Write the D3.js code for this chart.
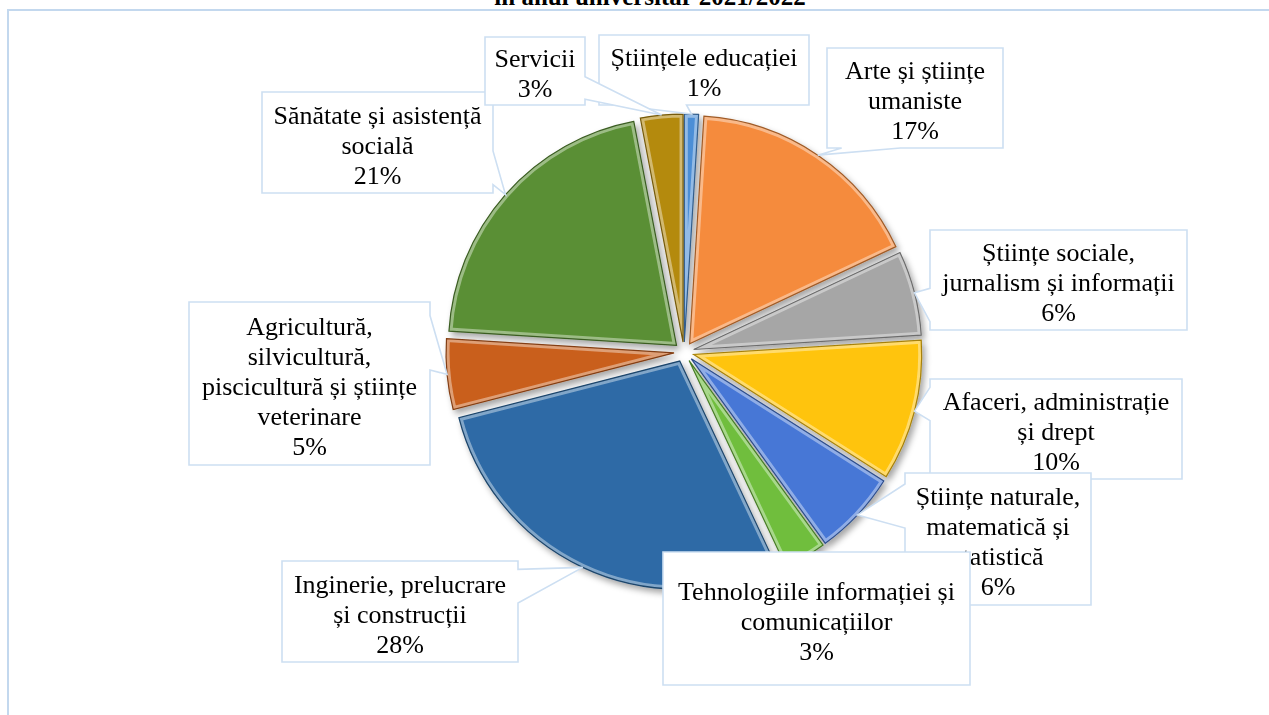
<!DOCTYPE html>
<html>
<head>
<meta charset="utf-8">
<script src="https://cdn.jsdelivr.net/npm/d3@7"></script>
<style>
  body { margin: 0; background: #fff; }
  svg { display: block; }
</style>
</head>
<body>
<svg></svg>
<script>
const width = 1269
const height = 715

// data: share of students by field of study (%)
const categories = [
  "Științele educației",
  "Arte și științe umaniste",
  "Științe sociale, jurnalism și informații",
  "Afaceri, administrație și drept",
  "Științe naturale, matematică și statistică",
  "Tehnologiile informației și comunicațiilor",
  "Inginerie, prelucrare și construcții",
  "Agricultură, silvicultură, piscicultură și științe veterinare",
  "Sănătate și asistență socială",
  "Servicii"
]
const values = [1, 17, 6, 10, 6, 3, 28, 5, 21, 3]

const colours = ["#4c8ed6", "#f58b3c", "#a6a6a6", "#ffc40a", "#4677d6",
                 "#6fbe3e", "#2e6ba6", "#c95f1c", "#5a8f34", "#b48a10"]

// label boxes placed by hand, like the original
const boxes = [
  {x: 599, y: 35, w: 210, h: 70},
  {x: 827, y: 48, w: 176, h: 100},
  {x: 930, y: 230, w: 257, h: 100},
  {x: 930, y: 379, w: 252, h: 100},
  {x: 905, y: 473, w: 186, h: 132},
  {x: 663, y: 552, w: 307, h: 133},
  {x: 282, y: 561, w: 236, h: 101},
  {x: 189, y: 302, w: 241, h: 163},
  {x: 262, y: 92, w: 231, h: 101},
  {x: 485, y: 37, w: 100, h: 68}
]

const cx = 684, cy = 352
const radius = 228
const explode = 10
const fontSize = 26
const lineH = 30

const svg = d3.select('svg')
  .attr('width', width)
  .attr('height', height)

const defs = svg.append('defs')
const shadow = defs.append('filter')
  .attr('id', 'shadow')
  .attr('x', '-20%').attr('y', '-20%')
  .attr('width', '140%').attr('height', '140%')
shadow.append('feDropShadow')
  .attr('dx', 3).attr('dy', 4)
  .attr('stdDeviation', 3)
  .attr('flood-color', '#000')
  .attr('flood-opacity', 0.35)

// chart frame
svg.append('rect')
  .attr('x', 8).attr('y', 10)
  .attr('width', 1400).attr('height', 900)
  .attr('fill', 'none')
  .attr('stroke', '#c3d8ee')
  .attr('stroke-width', 2)

// document title, cut off at the top
svg.append('text')
  .attr('x', 650).attr('y', 5)
  .attr('text-anchor', 'middle')
  .style('font-family', '"Liberation Serif", "Times New Roman", serif')
  .style('font-weight', 'bold')
  .style('font-size', '25px')
  .text('în anul universitar 2021/2022')

const total = d3.sum(values)
const pct = d3.format('.0%')

const pie = d3.pie().sort(null).value(d => d)
const arcs = pie(values)

const arc = d3.arc().innerRadius(0).outerRadius(radius)

function offset(d, r) {
  const a = (d.startAngle + d.endAngle) / 2
  return [Math.sin(a) * r, -Math.cos(a) * r]
}

const pieG = svg.append('g')
  .attr('transform', `translate(${cx},${cy})`)

arcs.forEach((d, i) => {
  defs.append('clipPath')
    .attr('id', 'clip' + i)
    .append('path')
    .attr('d', arc(d))
})

const slices = pieG.append('g')
  .attr('filter', 'url(#shadow)')
  .selectAll('g')
  .data(arcs)
  .enter()
  .append('g')
  .attr('transform', d => `translate(${offset(d, explode)})`)

slices.append('path')
  .attr('d', arc)
  .attr('fill', (d, i) => colours[i])

// bevel: light inner rim, darker outline
slices.append('path')
  .attr('d', arc)
  .attr('clip-path', (d, i) => `url(#clip${i})`)
  .attr('fill', 'none')
  .attr('stroke', '#fff')
  .attr('stroke-opacity', 0.4)
  .attr('stroke-width', 7)
  .attr('stroke-linejoin', 'round')

slices.append('path')
  .attr('d', arc)
  .attr('fill', 'none')
  .attr('stroke', (d, i) => d3.color(colours[i]).darker(1.2))
  .attr('stroke-width', 1.2)

// callout boxes
function calloutPath(b, tip) {
  const x0 = b.x, x1 = b.x + b.w, y0 = b.y, y1 = b.y + b.h
  const mx = b.x + b.w / 2, my = b.y + b.h / 2
  const dx = (tip[0] - mx) / b.w, dy = (tip[1] - my) / b.h
  const inside = Math.abs(dx) < 0.5 && Math.abs(dy) < 0.5
  let side = null
  if (!inside) {
    if (Math.abs(dy) >= Math.abs(dx)) side = dy < 0 ? 'top' : 'bottom'
    else side = dx < 0 ? 'left' : 'right'
  }
  const hx = tip[0] < mx ? [x0 + b.w / 12, x0 + 5 * b.w / 12] : [x0 + 7 * b.w / 12, x0 + 11 * b.w / 12]
  const hy = tip[1] < my ? [y0 + b.h / 12, y0 + 5 * b.h / 12] : [y0 + 7 * b.h / 12, y0 + 11 * b.h / 12]
  const pts = [[x0, y0]]
  if (side === 'top') pts.push([hx[0], y0], tip, [hx[1], y0])
  pts.push([x1, y0])
  if (side === 'right') pts.push([x1, hy[0]], tip, [x1, hy[1]])
  pts.push([x1, y1])
  if (side === 'bottom') pts.push([hx[1], y1], tip, [hx[0], y1])
  pts.push([x0, y1])
  if (side === 'left') pts.push([x0, hy[1]], tip, [x0, hy[0]])
  return d3.line()(pts) + 'Z'
}

const labels = svg.append('g')
  .style('font-family', '"Liberation Serif", "Times New Roman", serif')
  .style('font-size', fontSize + 'px')
  .attr('fill', '#000')

arcs.forEach((d, i) => {
  const b = boxes[i]
  const off = offset(d, explode)
  const rim = offset(d, radius)
  const tip = [cx + off[0] + rim[0], cy + off[1] + rim[1]]
  const g = labels.append('g')

  g.append('path')
    .attr('d', calloutPath(b, tip))
    .attr('fill', '#fff')
    .attr('stroke', '#cddff2')
    .attr('stroke-width', 1.6)

  const t = g.append('text').attr('text-anchor', 'middle')

  // wrap the category name to the box width
  const maxW = b.w - 14
  const words = categories[i].split(' ')
  const lines = []
  let cur = ''
  words.forEach(w => {
    const test = cur ? cur + ' ' + w : w
    const probe = t.append('tspan').text(test)
    const tw = probe.node().getComputedTextLength()
    probe.remove()
    if (tw > maxW && cur) {
      lines.push(cur)
      cur = w
    } else {
      cur = test
    }
  })
  lines.push(cur)
  lines.push(pct(values[i] / total))

  const my = b.y + b.h / 2 + 2
  lines.forEach((l, k) => {
    t.append('tspan')
      .attr('x', b.x + b.w / 2)
      .attr('y', my + (k - (lines.length - 1) / 2) * lineH + 9)
      .text(l)
  })
})
</script>
</body>
</html>
